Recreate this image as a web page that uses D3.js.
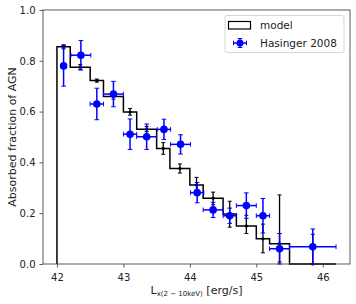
<!DOCTYPE html>
<html><head><meta charset="utf-8">
<script src="https://cdn.jsdelivr.net/npm/d3@7"></script>
<style>body{margin:0;background:#fff}svg{display:block}text{font-family:"DejaVu Sans",sans-serif}</style>
</head><body><svg id="c" width="356" height="304"></svg>
<script>
// Model histogram (step) bin edges and values
const modelEdges = [42.0,42.2,42.5,42.7,43.0,43.2,43.5,43.7,44.0,44.2,44.5,44.7,45.0,45.2,45.5,46.2];
const modelX   = [42.1,42.35,42.6,42.85,43.1,43.35,43.6,43.85,44.1,44.35,44.6,44.85,45.1,45.35,45.85];
const modelY   = [0.855,0.775,0.722,0.659,0.598,0.531,0.455,0.376,0.311,0.259,0.197,0.150,0.099,0.080,0.0];
const modelErrLo = [0.008,0.010,0.006,0.010,0.012,0.010,0.023,0.018,0.032,0.026,0.052,0.030,0.055,0.072,0.0];
const modelErrHi = [0.008,0.010,0.006,0.010,0.014,0.010,0.023,0.018,0.030,0.024,0.050,0.042,0.058,0.192,0.117];
// Hasinger 2008 data
const hasX    = [42.1,42.36,42.6,42.85,43.1,43.35,43.61,43.86,44.11,44.35,44.6,44.85,45.1,45.35,45.85];
const hasY    = [0.780,0.822,0.630,0.669,0.511,0.501,0.530,0.471,0.281,0.213,0.190,0.230,0.190,0.060,0.068];
const hasYErr = [0.080,0.058,0.062,0.050,0.060,0.050,0.040,0.038,0.040,0.030,0.030,0.050,0.068,0.060,0.070];
const hasXErr = [0.0,0.15,0.10,0.15,0.10,0.15,0.10,0.15,0.10,0.15,0.10,0.15,0.10,0.15,0.35];
const xTicks = [42,43,44,45,46];
const yTicks = [0,0.2,0.4,0.6,0.8,1.0];

const svg = d3.select("#c");
const L=43, R=350, T=10, B=264;
const x = d3.scaleLinear().domain([41.79,46.41]).range([L,R]);
const y = d3.scaleLinear().domain([0,1]).range([B,T]);

// model step line
const stepPts = [[modelEdges[0],0]];
modelY.forEach((v,i)=>{ stepPts.push([modelEdges[i],v]); stepPts.push([modelEdges[i+1],v]); });
svg.append("path")
  .attr("d", d3.line().x(d=>x(d[0])).y(d=>y(d[1]))(stepPts))
  .attr("fill","none").attr("stroke","#000").attr("stroke-width",1.5);

// model errorbars
const mg = svg.append("g");
modelX.forEach((mx,i)=>{
  const cx=x(mx), lo=y(modelY[i]-modelErrLo[i]), hi=y(modelY[i]+modelErrHi[i]);
  mg.append("line").attr("x1",cx).attr("x2",cx).attr("y1",lo).attr("y2",hi).attr("stroke","#000").attr("stroke-width",1.3);
  [lo,hi].forEach(yy=>mg.append("line").attr("x1",cx-2).attr("x2",cx+2).attr("y1",yy).attr("y2",yy).attr("stroke","#000").attr("stroke-width",1));
  mg.append("circle").attr("cx",cx).attr("cy",y(modelY[i])).attr("r",1.6).attr("fill","#000");
});

// Hasinger data
const hg = svg.append("g");
hasX.forEach((hx,i)=>{
  const cx=x(hx), cy=y(hasY[i]);
  const lo=y(Math.max(0,hasY[i]-hasYErr[i])), hi=y(hasY[i]+hasYErr[i]);
  hg.append("line").attr("x1",cx).attr("x2",cx).attr("y1",lo).attr("y2",hi).attr("stroke","#0000ff").attr("stroke-width",1.5);
  [lo,hi].forEach(yy=>hg.append("line").attr("x1",cx-2.3).attr("x2",cx+2.3).attr("y1",yy).attr("y2",yy).attr("stroke","#0000ff").attr("stroke-width",1));
  if(hasXErr[i]>0){
    const xl=x(hx-hasXErr[i]), xr=x(hx+hasXErr[i]);
    hg.append("line").attr("x1",xl).attr("x2",xr).attr("y1",cy).attr("y2",cy).attr("stroke","#0000ff").attr("stroke-width",1.5);
    [xl,xr].forEach(xx=>hg.append("line").attr("x1",xx).attr("x2",xx).attr("y1",cy-2.3).attr("y2",cy+2.3).attr("stroke","#0000ff").attr("stroke-width",1));
  }
  hg.append("circle").attr("cx",cx).attr("cy",cy).attr("r",3.8).attr("fill","#0000ff");
});

// axes
const xa = svg.append("g").attr("transform",`translate(0,${B})`)
  .call(d3.axisBottom(x).tickValues(xTicks).tickFormat(d3.format("d")).tickSizeOuter(0).tickSize(3.5));
const ya = svg.append("g").attr("transform",`translate(${L},0)`)
  .call(d3.axisLeft(y).tickValues(yTicks).tickFormat(d3.format(".1f")).tickSizeOuter(0).tickSize(3.5));
[xa,ya].forEach(a=>{
  a.select(".domain").remove();
  a.selectAll("line").attr("stroke","#333").attr("stroke-width",0.8);
  a.selectAll("text").attr("font-size",10).attr("fill","#222").attr("font-family","DejaVu Sans");
});
xa.selectAll("text").attr("dy","1.05em");
ya.selectAll("text").attr("dx","-0.1em");
svg.append("rect").attr("x",L).attr("y",T).attr("width",R-L).attr("height",B-T)
  .attr("fill","none").attr("stroke","#333").attr("stroke-width",0.8);

// axis labels
svg.append("text").attr("transform",`translate(15.5,${(T+B)/2}) rotate(-90)`)
  .attr("text-anchor","middle").attr("font-size",11).attr("fill","#222").text("Absorbed fraction of AGN");
const xl = svg.append("text").attr("x",(L+R)/2).attr("y",294).attr("text-anchor","middle").attr("font-size",11).attr("fill","#222");
xl.append("tspan").text("L");
xl.append("tspan").attr("font-size",7).attr("dy",2).text("x(2 − 10keV)");
xl.append("tspan").attr("dy",-2).text(" [erg/s]");

// legend
const lg = svg.append("g");
lg.append("rect").attr("x",225).attr("y",15.5).attr("width",119).attr("height",37).attr("rx",2)
  .attr("fill","#fff").attr("fill-opacity",0.8).attr("stroke","#ccc").attr("stroke-width",0.8);
lg.append("rect").attr("x",228.5).attr("y",21.5).attr("width",22).attr("height",7.5).attr("fill","none").attr("stroke","#000").attr("stroke-width",1.2);
lg.append("text").attr("x",260).attr("y",29).attr("font-size",10.5).attr("fill","#222").text("model");
const lx=240, ly=43;
lg.append("line").attr("x1",lx-6.5).attr("x2",lx+6.5).attr("y1",ly).attr("y2",ly).attr("stroke","#0000ff").attr("stroke-width",1.5);
lg.append("line").attr("x1",lx).attr("x2",lx).attr("y1",ly-4.5).attr("y2",ly+4.5).attr("stroke","#0000ff").attr("stroke-width",1.5);
[[lx-6.5,0],[lx+6.5,0]].forEach(p=>lg.append("line").attr("x1",p[0]).attr("x2",p[0]).attr("y1",ly-2.3).attr("y2",ly+2.3).attr("stroke","#0000ff"));
[ly-4.5,ly+4.5].forEach(yy=>lg.append("line").attr("x1",lx-2.3).attr("x2",lx+2.3).attr("y1",yy).attr("y2",yy).attr("stroke","#0000ff"));
lg.append("circle").attr("cx",lx).attr("cy",ly).attr("r",3.5).attr("fill","#0000ff");
lg.append("text").attr("x",260).attr("y",47).attr("font-size",10.5).attr("fill","#222").text("Hasinger 2008");
</script></body></html>
